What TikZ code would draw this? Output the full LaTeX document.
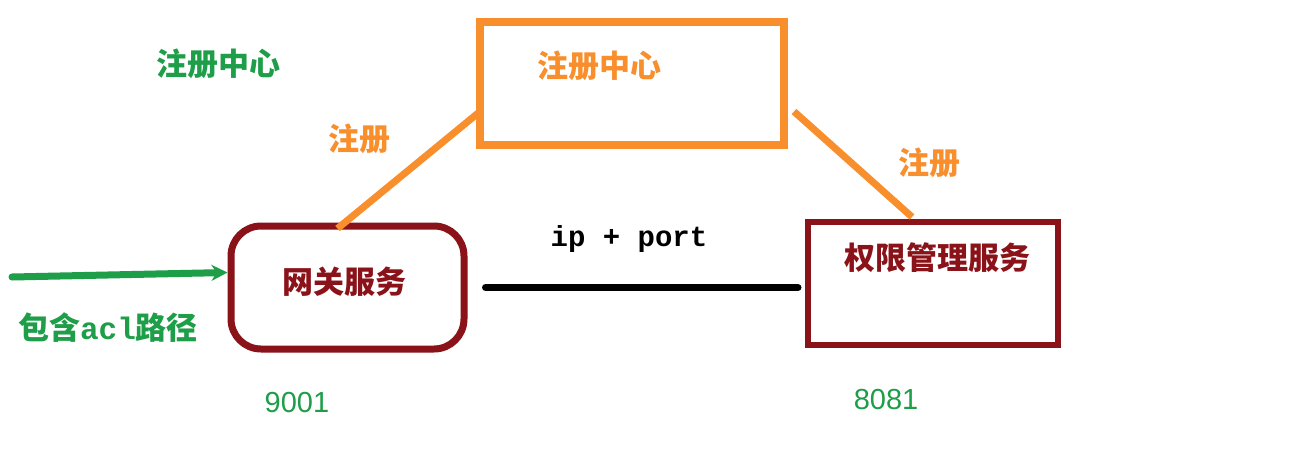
\documentclass[tikz,border=0pt]{standalone}
\usepackage{fontspec}
\setmainfont{Liberation Sans}
\newfontfamily\cjk{Noto Sans CJK SC}
\newfontfamily\monof{Liberation Mono}
\usetikzlibrary{arrows.meta,calc}
\definecolor{regorange}{HTML}{F98E2C}
\definecolor{darkred}{HTML}{8A1219}
\definecolor{mygreen}{HTML}{1E9E48}
\begin{document}
\begin{tikzpicture}[x=1pt,y=-1pt,
  cjktext/.style={font=\cjk\fontsize{31}{33}\selectfont\bfseries, inner sep=0pt},
  boxbase/.style={draw, inner sep=0pt},
  numtext/.style={font=\fontsize{29}{31}\selectfont, text=mygreen, inner sep=0pt},
]
\useasboundingbox[fill=white] (0,0) rectangle (1304,453);
% boxes
\node[boxbase, draw=regorange, line width=8pt, minimum width=304pt, minimum height=123pt] (reg) at (632,83.5) {};
\node[boxbase, draw=darkred, line width=7pt, rounded corners=30pt, minimum width=233pt, minimum height=123pt] (gw) at (347.5,287.5) {};
\node[boxbase, draw=darkred, line width=6pt, minimum width=250pt, minimum height=123pt] (auth) at (933,283.5) {};
% texts
\node[cjktext, text=mygreen] (greg) at (218,64) {注册中心};
\node[cjktext, text=regorange] (regl) at (599,66) {注册中心};
\node[cjktext, text=regorange] (r1) at (359,139) {注册};
\node[cjktext, text=regorange] (r2) at (929,163) {注册};
\node[cjktext, text=darkred] (gwl) at (344,282) {网关服务};
\node[cjktext, text=darkred] (authl) at (937,258) {权限管理服务};
\node[font=\monof\fontsize{29}{31}\selectfont\bfseries, inner sep=0pt] (ipp) at (629,239) {ip + port};
\node[font=\fontsize{31}{33}\selectfont\bfseries, text=mygreen, inner sep=0pt] (acl) at (108,328) {{\cjk 包含}{\monof acl}{\cjk 路径}};
\node[numtext] (n1) at (297,403) {9001};
\node[numtext] (n2) at (886,400) {8081};
% connectors
\draw[regorange, line width=7pt] ([xshift=-10pt,yshift=-6pt]gw.north) -- ([xshift=4pt,yshift=-28pt]reg.west);
\draw[regorange, line width=7pt] ([xshift=6pt,yshift=-28pt]reg.east) -- ([xshift=-21pt,yshift=2pt]auth.north);
\draw[black, line width=7pt, line cap=round, shorten <=18pt, shorten >=7pt] (gw.east) -- (gw.east -| auth.west);
\coordinate (src) at (12,277);
\draw[mygreen, line width=7pt, line cap=round, -{Stealth[length=16pt,width=16pt,inset=5pt]}] (src) -- ([yshift=15pt]gw.west);
\end{tikzpicture}
\end{document}
